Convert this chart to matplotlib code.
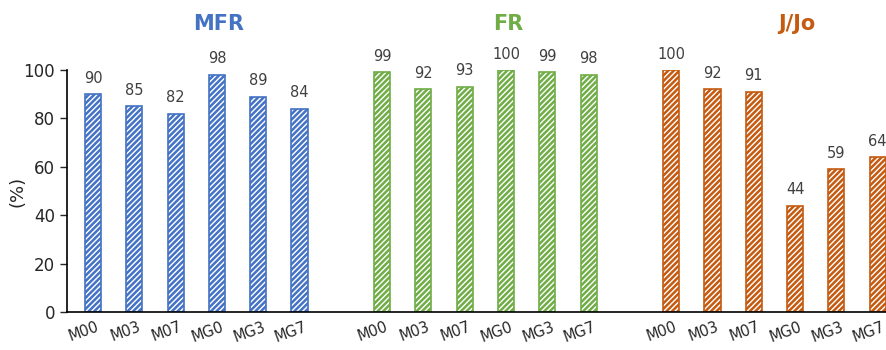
import numpy as np
import matplotlib
matplotlib.use("Agg")
import matplotlib.pyplot as plt
import matplotlib.transforms as mtransforms

samples = ["M00", "M03", "M07", "MG0", "MG3", "MG7"]
groups = ["MFR", "FR", "J/Jo"]
mfr = [90, 85, 82, 98, 89, 84]
fr = [99, 92, 93, 100, 99, 98]
jjo = [100, 92, 91, 44, 59, 64]
colors = ["#4472C4", "#70AD47", "#C55A11"]

plt.rcParams['hatch.linewidth'] = 1.8
fig = plt.figure(figsize=(8.86, 3.5), dpi=100)
ax = fig.add_axes([67/886, 38/350, (886-67)/886, 242/350])

labels = []
positions = []
for gi, (name, vals, col) in enumerate(zip(groups, [mfr, fr, jjo], colors)):
    x = np.arange(len(vals)) + gi * 7
    ax.bar(x, vals, width=0.39, facecolor="white", edgecolor=col,
           hatch="//////", linewidth=1.2)
    for xi, v in zip(x, vals):
        ax.text(xi, v + 3.5, str(v), ha="center", va="bottom", fontsize=10.5,
                color="#404040", clip_on=False)
    ax.text(x.mean() + 0.55, 119, name, ha="center", va="center",
            fontsize=15, fontweight="bold", color=col, clip_on=False)
    positions.extend(x)
    labels.extend(samples)

ax.set_xticks(positions)
ax.set_xticklabels(labels, rotation=20, fontsize=10.5, color="#262626")
ax.tick_params(axis="x", length=0, pad=5)
# shift labels left a bit, like the Excel layout
shift = mtransforms.ScaledTranslation(-0.09, 0, fig.dpi_scale_trans)
for lab in ax.get_xticklabels():
    lab.set_transform(lab.get_transform() + shift)
ax.set_xlim(-0.63, 19.2)
ax.set_ylim(0, 100)
ax.set_yticks(range(0, 101, 20))
ax.tick_params(axis="y", labelsize=12, colors="#262626", length=5, width=1)
ax.set_ylabel("(%)", fontsize=13, labelpad=-2, color="#262626")
for s in ["top", "right"]:
    ax.spines[s].set_visible(False)
ax.spines["left"].set_linewidth(1.2)
ax.spines["bottom"].set_linewidth(1.2)

fig.savefig("out.png", dpi=100)
